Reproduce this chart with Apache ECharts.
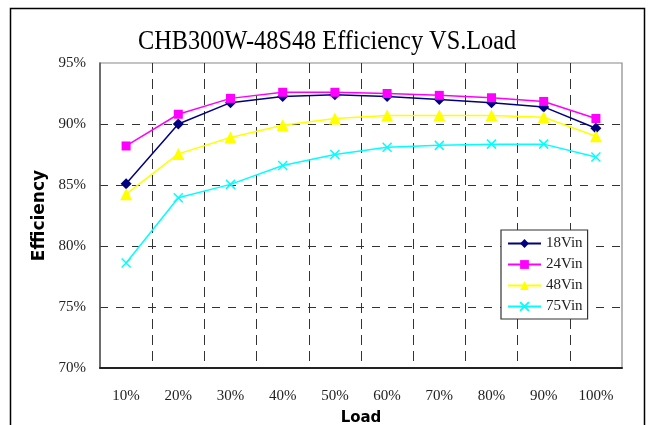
<!DOCTYPE html>
<html>
<head>
<meta charset="utf-8">
<script src="https://cdn.jsdelivr.net/npm/echarts@6/dist/echarts.min.js"></script>
<style>html,body{margin:0;padding:0;background:#fff}#c{width:649px;height:425px}</style>
</head>
<body>
<div id="c"></div>
<script>
var categories = ['10%','20%','30%','40%','50%','60%','70%','80%','90%','100%'];
var vin18 = [85.1, 90.0, 91.75, 92.25, 92.4, 92.25, 92.0, 91.75, 91.4, 89.65];
var vin24 = [88.2, 90.8, 92.1, 92.6, 92.6, 92.5, 92.35, 92.15, 91.85, 90.45];
var vin48 = [84.25, 87.55, 88.9, 89.9, 90.45, 90.7, 90.7, 90.7, 90.55, 89.0];
var vin75 = [78.6, 83.95, 85.05, 86.6, 87.5, 88.1, 88.25, 88.35, 88.35, 87.3];
var seriesNames = ['18Vin','24Vin','48Vin','75Vin'];
var titleText = 'CHB300W-48S48 Efficiency VS.Load';

var chart = echarts.init(document.getElementById('c'), null, {renderer:'canvas'});
var serifFont = '"Liberation Serif", "DejaVu Serif", serif';
var xSym = 'path://M0,0L10,10M10,0L0,10';

function mk(name, data, color, symbol, size, extra) {
  var s = {
    name: name, type: 'line', data: data, symbol: symbol, symbolSize: size,
    lineStyle: {color: color, width: 1.5},
    itemStyle: {color: color},
    animation: false, z: 3
  };
  if (extra) s.itemStyle = Object.assign(s.itemStyle, extra);
  return s;
}

chart.setOption({
  animation: false,
  backgroundColor: '#fff',
  graphic: [
    {type: 'rect', shape: {x: 10.5, y: 8.5, width: 634, height: 460},
     style: {fill: 'none', stroke: '#000', lineWidth: 1.5}, z: 0},
    {type: 'text', x: 138, y: 28, scaleX: 0.9,
     style: {text: titleText, fontFamily: 'Liberation Serif', fontSize: 27, fill: '#000'}, z: 10}
  ],
  grid: {left: 100, right: 27, top: 63, bottom: 57, show: true, borderColor: '#888', borderWidth: 1.2,
         outerBoundsMode: 'none', containLabel: false},
  legend: {
    data: seriesNames, orient: 'vertical', left: 501, top: 230,
    backgroundColor: '#fff', borderColor: '#333', borderWidth: 1.2,
    padding: [6, 5, 5, 6], itemWidth: 33, itemHeight: 11, itemGap: 6,
    textStyle: {fontFamily: serifFont, fontSize: 15, color: '#222'}
  },
  xAxis: {
    type: 'category', data: categories, boundaryGap: true,
    name: 'Load', nameLocation: 'middle', nameGap: 43,
    nameTextStyle: {fontFamily: '"DejaVu Sans", sans-serif', fontWeight: 'bold', fontSize: 15, color: '#000'},
    axisLine: {show: true, lineStyle: {color: '#222', width: 2}},
    axisTick: {show: false},
    axisLabel: {fontFamily: serifFont, fontSize: 15, color: '#222', margin: 21, interval: 0},
    splitLine: {show: true, interval: 0, showMinLine: false, showMaxLine: false,
                lineStyle: {color: '#333', type: [10, 6], width: 1}}
  },
  yAxis: {
    type: 'value', min: 70, max: 95, interval: 5,
    name: 'Efficiency', nameLocation: 'middle', nameGap: 49, nameRotate: 90,
    nameTextStyle: {fontFamily: '"DejaVu Sans", sans-serif', fontWeight: 'bold', fontSize: 17, color: '#000'},
    axisLine: {show: true, lineStyle: {color: '#555', width: 1.5}},
    axisTick: {show: false},
    axisLabel: {fontFamily: serifFont, fontSize: 15, color: '#222', margin: 14, formatter: '{value}%'},
    splitLine: {show: true, showMinLine: false, showMaxLine: false,
                lineStyle: {color: '#333', type: [8, 8], width: 1}}
  },
  series: [
    mk('18Vin', vin18, '#000080', 'diamond', 11),
    mk('24Vin', vin24, '#ff00ff', 'rect', 9),
    mk('48Vin', vin48, '#ffff00', 'triangle', 12),
    mk('75Vin', vin75, '#00ffff', xSym, 9, {borderColor: '#00ffff', borderWidth: 1.5})
  ]
});
</script>
</body>
</html>
